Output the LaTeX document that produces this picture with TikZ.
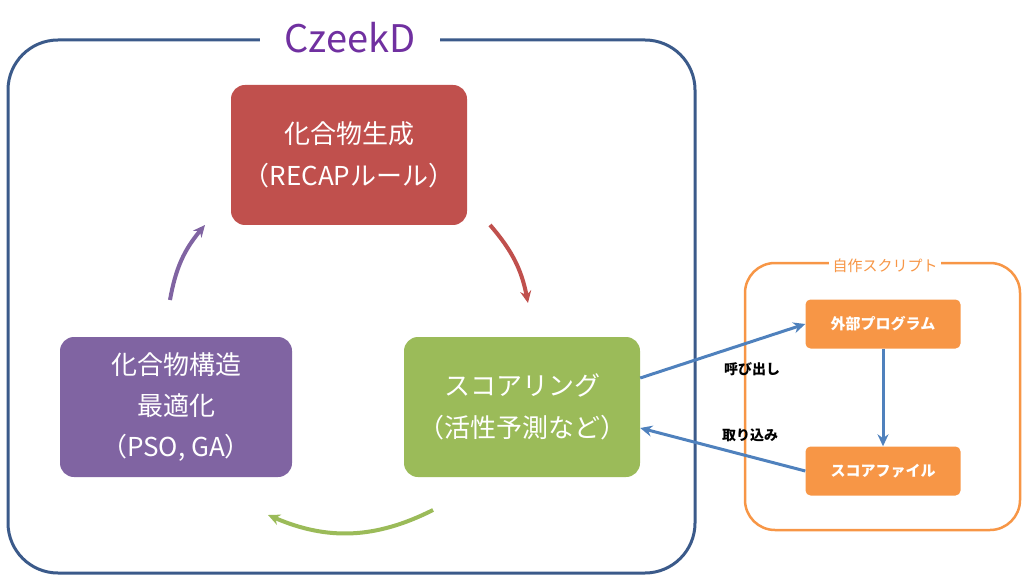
\documentclass[tikz,border=0pt]{standalone}
\usepackage{fontspec}
\setmainfont{Noto Sans CJK JP}
\usetikzlibrary{arrows.meta}
\definecolor{frameblue}{HTML}{3B5A8A}
\definecolor{titlepurple}{HTML}{7030A0}
\definecolor{boxred}{HTML}{C0504D}
\definecolor{boxgreen}{HTML}{9BBB59}
\definecolor{boxpurple}{HTML}{8064A2}
\definecolor{boxorange}{HTML}{F79646}
\definecolor{linkblue}{HTML}{4F81BD}
\tikzset{
  >={Stealth[length=12pt,width=11pt]},
  bigbox/.style = {draw=none, rounded corners=14pt, text=white, align=center,
    font=\fontsize{26}{42}\selectfont, minimum width=236pt, minimum height=140pt},
  smallbox/.style = {fill=boxorange, rounded corners=5pt, text=white,
    font=\fontsize{15}{17}\selectfont\bfseries, minimum width=155pt, minimum height=49pt},
  cyc/.style = {->, line width=4pt},
  link/.style = {->, linkblue, line width=3pt}
}
\begin{document}
\begin{tikzpicture}[x=1pt,y=-1pt]
  \useasboundingbox (0,0) rectangle (1024,577);

  % CzeekD frame
  \draw[frameblue, line width=3pt, rounded corners=50pt] (8,40) rectangle (695,573);
  \node[fill=white, text=titlepurple, font=\fontsize{38}{40}\selectfont,
        minimum width=180pt] (title) at (350,38) {CzeekD};

  % cycle boxes
  \node[bigbox, fill=boxred] (gen) at (349,155) {化合物生成\\（RECAPルール）};
  \node[bigbox, fill=boxgreen] (score) at (522,407) {スコアリング\\（活性予測など）};
  \node[bigbox, fill=boxpurple, minimum width=232pt,
        font=\fontsize{26}{41}\selectfont] (opt) at (176,407) {化合物構造\\最適化\\（PSO, GA）};

  % cycle arrows
  \draw[cyc, boxred] (490,225) to[bend left=15] (528,303);
  \draw[cyc, boxgreen] (433,510) to[bend left=25] (268,515);
  \draw[cyc, boxpurple] (170,300) to[bend left=15] (205,225);

  % script frame
  \draw[boxorange, line width=2.5pt, rounded corners=30pt] (745,263) rectangle (1020,530);
  \node[fill=white, text=boxorange, font=\fontsize{15}{17}\selectfont] (script) at (885,266) {自作スクリプト};
  \node[smallbox] (ext) at (883,324) {外部プログラム};
  \node[smallbox] (file) at (883,471) {スコアファイル};

  % links
  \draw[link] (score.east |- 0,378) -- (ext.west);
  \node[font=\fontsize{14}{16}\selectfont\bfseries] (call) at (752,369) {呼び出し};
  \draw[link] (file.west) -- (score.east |- 0,428);
  \node[font=\fontsize{14}{16}\selectfont\bfseries] (load) at (750,435) {取り込み};
  \draw[link] (ext) -- (file);
\end{tikzpicture}
\end{document}
